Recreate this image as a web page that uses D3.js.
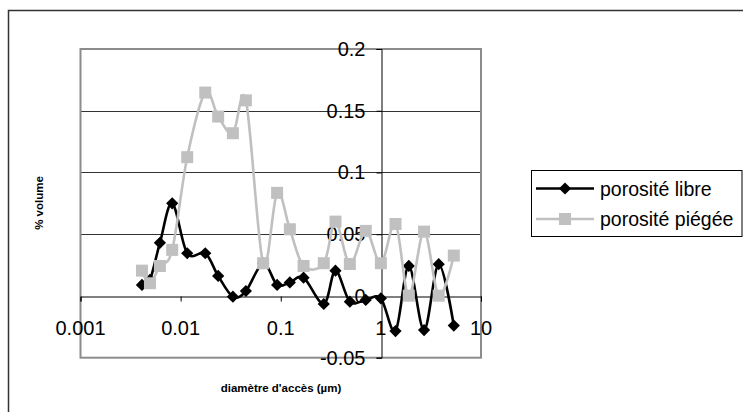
<!DOCTYPE html>
<html>
<head>
<meta charset="utf-8">
<script src="https://cdn.jsdelivr.net/npm/d3@7"></script>
<style>
  html, body { margin: 0; padding: 0; background: #fff; }
  svg { display: block; font-family: Arial, "Liberation Sans", sans-serif; }
</style>
</head>
<body>
<svg id="chart" width="743" height="412"></svg>
<script>
// ---- data ----
const diameters = [0.00411, 0.00494, 0.00621, 0.00824, 0.01164, 0.01762, 0.02371, 0.03327, 0.04487,
  0.0667, 0.092, 0.1233, 0.169, 0.269, 0.352, 0.49, 0.706, 1.0, 1.40, 1.90, 2.70, 3.78, 5.35];
const poroLibre = [0.0089, 0.013, 0.043, 0.075, 0.0346, 0.0346, 0.0162, -0.0006, 0.004,
  0.0265, 0.0089, 0.011, 0.0148, -0.0065, 0.0205, -0.0046, -0.0032, -0.0019, -0.0284, 0.0243, -0.0276, 0.0257, -0.024];
const poroPiegee = [0.0205, 0.0103, 0.0243, 0.0373, 0.1124, 0.1647, 0.1453, 0.1318, 0.1584,
  0.0265, 0.0835, 0.054, 0.0243, 0.0265, 0.0602, 0.0259, 0.0527, 0.0265, 0.0583, 0.0002, 0.0521, 0.0002, 0.0327];
const seriesNames = ["porosité libre", "porosité piégée"];
const xTicks = [0.001, 0.01, 0.1, 1, 10];
const xTickLabels = ["0.001", "0.01", "0.1", "1", "10"];
const yTicks = [-0.05, 0, 0.05, 0.1, 0.15, 0.2];
const yTickLabels = ["-0.05", "0", "0.05", "0.1", "0.15", "0.2"];
const xTitle = "diamètre d'accès (µm)";
const yTitle = "% volume";

// ---- layout ----
const svg = d3.select("#chart");
const L = 80.5, R = 481, T = 49, B = 357.7;
const x = d3.scaleLog().domain([0.001, 10]).range([L, R]);
const y = d3.scaleLinear().domain([-0.05, 0.2]).range([B, T]);

// outer chart border
svg.append("rect").attr("x", 8.5).attr("y", 10.5).attr("width", 760).attr("height", 420)
  .attr("fill", "none").attr("stroke", "#333").attr("stroke-width", 1.5);

// gridlines
svg.append("g").selectAll("line").data(yTicks.filter(v => v > 0))
  .join("line")
  .attr("x1", L).attr("x2", R)
  .attr("y1", d => Math.round(y(d)) + 0.5).attr("y2", d => Math.round(y(d)) + 0.5)
  .attr("stroke", "#333").attr("stroke-width", 1);

// plot border
svg.append("rect").attr("x", L).attr("y", T).attr("width", R - L).attr("height", B - T)
  .attr("fill", "none").attr("stroke", "#8c8c8c").attr("stroke-width", 2);

// x axis at y=0
const y0 = Math.round(y(0)) + 0.5;
const xAxis = d3.axisBottom(x).tickValues(xTicks).tickSize(5).tickFormat(() => "");
const gx = svg.append("g").attr("transform", `translate(0,${y0})`).call(xAxis);
gx.select(".domain").attr("stroke", "#000");
gx.selectAll(".tick line").attr("stroke", "#000");
svg.append("g").selectAll("text").data(xTicks).join("text")
  .attr("x", d => x(d)).attr("y", y0 + 38)
  .attr("text-anchor", "middle").attr("font-size", 20).attr("fill", "#000")
  .text((d, i) => xTickLabels[i]);

// y axis at x=1
const x1 = Math.round(x(1)) + 0.5;
const yAxis = d3.axisLeft(y).tickValues(yTicks).tickSize(5).tickFormat(() => "");
const gy = svg.append("g").attr("transform", `translate(${x1},0)`).call(yAxis);
gy.select(".domain").attr("stroke", "#000");
gy.selectAll(".tick line").attr("stroke", "#000");
svg.append("g").selectAll("text").data(yTicks).join("text")
  .attr("x", x1 - 16).attr("y", d => y(d) + 7)
  .attr("text-anchor", "end").attr("font-size", 20).attr("fill", "#000")
  .text((d, i) => yTickLabels[i]);

// axis titles
svg.append("text").attr("x", 281).attr("y", 392).attr("text-anchor", "middle")
  .attr("font-size", 11.5).attr("font-weight", "bold").text(xTitle);
svg.append("text").attr("transform", "translate(43,203) rotate(-90)").attr("text-anchor", "middle")
  .attr("font-size", 11.5).attr("font-weight", "bold").text(yTitle);

// series
const line = d3.line().curve(d3.curveCardinal.tension(0));
const diamond = d3.symbol().type(d3.symbolDiamond2).size(95);
const sq = 12;
function drawSeries(vals, color, kind) {
  const pts = diameters.map((d, i) => [x(d), y(vals[i])]);
  svg.append("path").attr("d", line(pts)).attr("fill", "none")
    .attr("stroke", color).attr("stroke-width", 2.6).attr("stroke-linejoin", "round");
  const g = svg.append("g");
  if (kind === "diamond") {
    g.selectAll("path").data(pts).join("path")
      .attr("transform", p => `translate(${p[0]},${p[1]})`)
      .attr("d", diamond).attr("fill", color);
  } else {
    g.selectAll("rect").data(pts).join("rect")
      .attr("x", p => p[0] - sq / 2).attr("y", p => p[1] - sq / 2)
      .attr("width", sq).attr("height", sq).attr("fill", color);
  }
}
drawSeries(poroLibre, "#000", "diamond");
drawSeries(poroPiegee, "#c0c0c0", "square");

// legend
const lg = svg.append("g");
lg.append("rect").attr("x", 531.5).attr("y", 170.5).attr("width", 210.5).attr("height", 66)
  .attr("fill", "#fff").attr("stroke", "#000").attr("stroke-width", 1);
const legendRows = [
  { name: seriesNames[0], color: "#000", kind: "diamond", cy: 188.5 },
  { name: seriesNames[1], color: "#c0c0c0", kind: "square", cy: 219 }
];
legendRows.forEach(r => {
  lg.append("line").attr("x1", 536).attr("x2", 594).attr("y1", r.cy).attr("y2", r.cy)
    .attr("stroke", r.color).attr("stroke-width", 2.6);
  if (r.kind === "diamond") {
    lg.append("path").attr("transform", `translate(565,${r.cy})`).attr("d", diamond).attr("fill", r.color);
  } else {
    lg.append("rect").attr("x", 565 - sq / 2).attr("y", r.cy - sq / 2).attr("width", sq).attr("height", sq).attr("fill", r.color);
  }
  lg.append("text").attr("x", 600).attr("y", r.cy + 7).attr("font-size", 19.5).attr("fill", "#000").text(r.name);
});
</script>
</body>
</html>
